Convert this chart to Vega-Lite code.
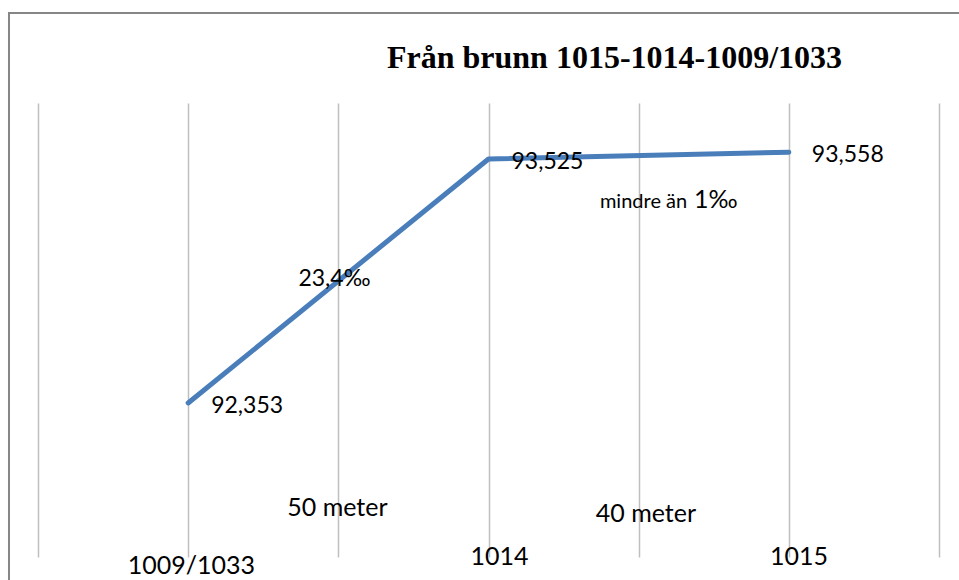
{
  "$schema": "https://vega.github.io/schema/vega-lite/v6.json",
  "width": 901,
  "height": 454,
  "autosize": "none",
  "padding": {"left": 38, "top": 103, "right": 20, "bottom": 23},
  "background": "white",
  "config": {"view": {"stroke": null}},
  "title": {
    "text": "Från brunn 1015-1014-1009/1033",
    "font": "Liberation Serif",
    "fontSize": 32,
    "fontWeight": "bold",
    "color": "black",
    "anchor": "middle",
    "frame": "group",
    "dx": 126,
    "offset": -63
  },
  "layer": [
    {
      "data": {"values": [{"k": 1}]},
      "mark": {"type": "rect", "fill": null, "stroke": "#868686", "strokeWidth": 2, "clip": false},
      "encoding": {
        "x": {"datum": -0.5966, "type": "quantitative", "scale": {"domain": [-0.5, 2.5], "nice": false, "zero": false}, "axis": {"grid": true, "labels": false, "ticks": false, "domain": false, "title": null, "values": [-0.5, 0, 0.5, 1, 1.5, 2, 2.5], "gridColor": "#bfbfbf", "gridWidth": 1.5}},
        "x2": {"datum": 3.2},
        "y": {"datum": 94.226, "type": "quantitative", "scale": {"domain": [91.613, 93.794], "nice": false, "zero": false}, "axis": null},
        "y2": {"datum": 90.5}
      }
    },
    {
      "data": {"name": "points", "values": [
        {"station": "1009/1033", "i": 0, "elev": 92.353, "label": "92,353"},
        {"station": "1014", "i": 1, "elev": 93.525, "label": "93,525"},
        {"station": "1015", "i": 2, "elev": 93.558, "label": "93,558"}
      ]},
      "layer": [
        {
          "mark": {"type": "line", "color": "#4a7ebb", "strokeWidth": 5, "strokeCap": "round", "strokeJoin": "round", "clip": false},
          "encoding": {
            "x": {"field": "i", "type": "quantitative"},
            "y": {"field": "elev", "type": "quantitative"}
          }
        },
        {
          "mark": {"type": "text", "font": "Lato", "fontSize": 23, "align": "left", "baseline": "alphabetic", "dx": 23, "dy": 10, "color": "black", "clip": false},
          "encoding": {
            "x": {"field": "i", "type": "quantitative"},
            "y": {"field": "elev", "type": "quantitative"},
            "text": {"field": "label"}
          }
        }
      ]
    },
    {
      "data": {"values": [
        {"t": "23,4‰", "x": 0.487, "y": 92.915}
      ]},
      "mark": {"type": "text", "font": "Lato", "fontSize": 23, "align": "center", "baseline": "alphabetic", "color": "black", "clip": false},
      "encoding": {"x": {"field": "x", "type": "quantitative"}, "y": {"field": "y", "type": "quantitative"}, "text": {"field": "t"}}
    },
    {
      "data": {"values": [
        {"t": "mindre än", "x": 1.371, "y": 93.29}
      ]},
      "mark": {"type": "text", "font": "Lato", "fontSize": 20, "align": "left", "baseline": "alphabetic", "color": "black", "clip": false},
      "encoding": {"x": {"field": "x", "type": "quantitative"}, "y": {"field": "y", "type": "quantitative"}, "text": {"field": "t"}}
    },
    {
      "data": {"values": [
        {"t": "1‰", "x": 1.684, "y": 93.29}
      ]},
      "mark": {"type": "text", "font": "Lato", "fontSize": 25, "align": "left", "baseline": "alphabetic", "color": "black", "clip": false},
      "encoding": {"x": {"field": "x", "type": "quantitative"}, "y": {"field": "y", "type": "quantitative"}, "text": {"field": "t"}}
    },
    {
      "data": {"values": [
        {"t": "50 meter", "x": 0.497, "y": 91.81},
        {"t": "40 meter", "x": 1.524, "y": 91.781},
        {"t": "1009/1033", "x": 0.011, "y": 91.532},
        {"t": "1014", "x": 1.037, "y": 91.575},
        {"t": "1015", "x": 2.034, "y": 91.575}
      ]},
      "mark": {"type": "text", "font": "Lato", "fontSize": 25, "align": "center", "baseline": "alphabetic", "color": "black", "clip": false},
      "encoding": {"x": {"field": "x", "type": "quantitative"}, "y": {"field": "y", "type": "quantitative"}, "text": {"field": "t"}}
    }
  ]
}
